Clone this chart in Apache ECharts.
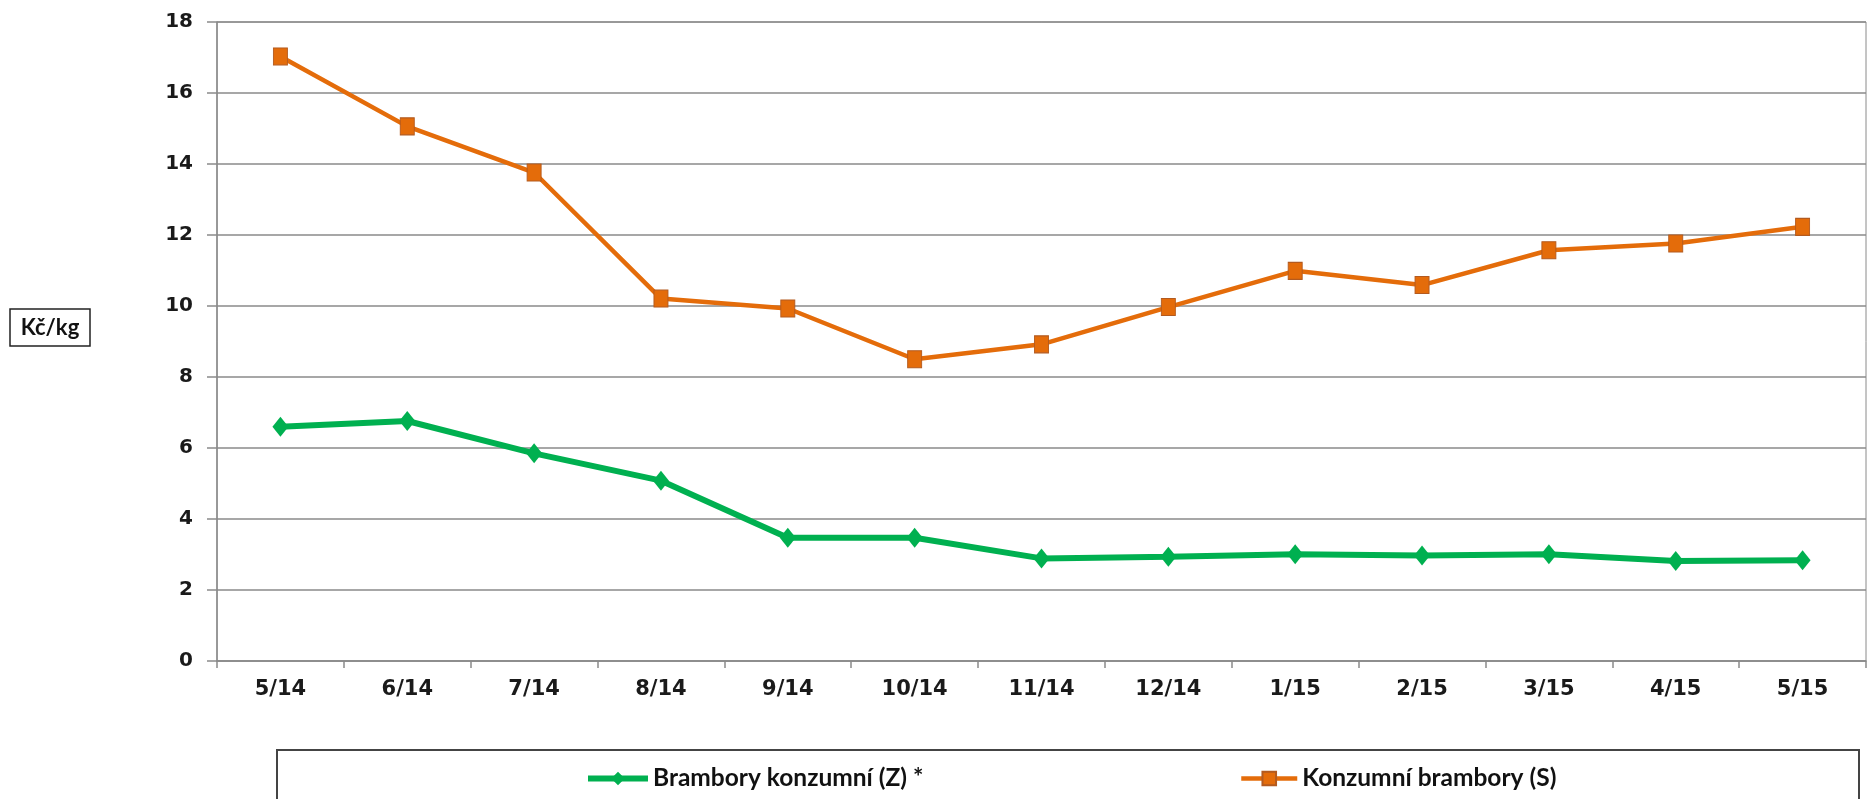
<!DOCTYPE html>
<html>
<head>
<meta charset="utf-8">
<script src="https://cdn.jsdelivr.net/npm/echarts@6/dist/echarts.min.js"></script>
<style>
html,body{margin:0;padding:0;background:#fff;}
#chart{width:1867px;height:799px;}
</style>
</head>
<body>
<div id="chart"></div>
<script>
const categories = ['5/14','6/14','7/14','8/14','9/14','10/14','11/14','12/14','1/15','2/15','3/15','4/15','5/15'];
const greenName = 'Brambory konzumní (Z) *';
const orangeName = 'Konzumní brambory (S)';
const greenValues = [6.60, 6.76, 5.85, 5.08, 3.47, 3.47, 2.89, 2.94, 3.01, 2.97, 3.01, 2.82, 2.84];
const orangeValues = [17.03, 15.06, 13.76, 10.21, 9.93, 8.50, 8.92, 9.97, 10.99, 10.59, 11.57, 11.76, 12.23];
const yTicks = {min: 0, max: 18, interval: 2};
const unitLabel = 'Kč/kg';

const chart = echarts.init(document.getElementById('chart'));
const gray = '#8a8a8a';
chart.setOption({
  animation: false,
  backgroundColor: '#fff',
  grid: {left: 217, right: 1, top: 22, bottom: 138, show: true, borderColor: gray, borderWidth: 1},
  xAxis: {
    type: 'category',
    data: categories,
    boundaryGap: true,
    axisLine: {lineStyle: {color: gray, width: 1.5}},
    axisTick: {show: true, length: 7, inside: false, alignWithLabel: false, lineStyle: {color: gray, width: 1.5}},
    axisLabel: {color: '#1a1a1a', fontFamily: 'DejaVu Sans', fontWeight: 'bold', fontSize: 21, margin: 18}
  },
  yAxis: {
    type: 'value',
    min: yTicks.min, max: yTicks.max, interval: yTicks.interval,
    axisLine: {show: true, lineStyle: {color: gray, width: 1.5}},
    axisTick: {show: true, length: 10, lineStyle: {color: gray, width: 1.5}},
    splitLine: {lineStyle: {color: gray, width: 1.5}},
    axisLabel: {color: '#1a1a1a', fontFamily: 'DejaVu Sans', fontWeight: 'bold', fontSize: 20, margin: 24}
  },
  legend: [{
    left: 580, top: 761,
    data: [greenName],
    itemWidth: 60, itemHeight: 17,
    lineStyle: {width: 6},
    textStyle: {color: '#111', fontFamily: 'Lato', fontWeight: 'bold', fontSize: 24.5}
  }, {
    left: 1234, top: 761,
    data: [orangeName],
    itemWidth: 56, itemHeight: 17,
    lineStyle: {width: 4.5},
    textStyle: {color: '#111', fontFamily: 'Lato', fontWeight: 'bold', fontSize: 24.5}
  }],
  graphic: [
    {type: 'rect', shape: {x: 277, y: 750, width: 1582, height: 100}, style: {fill: 'none', stroke: '#444', lineWidth: 2}},
    {type: 'rect', shape: {x: 10, y: 309, width: 80, height: 37}, style: {fill: '#fff', stroke: '#222', lineWidth: 1.5}},
    {type: 'text', x: 50, y: 327.5, style: {text: unitLabel, fill: '#111', font: 'bold 22px Lato', align: 'center', verticalAlign: 'middle'}}
  ],
  series: [{
    name: greenName,
    type: 'line',
    data: greenValues,
    symbol: 'diamond',
    symbolSize: [16, 20],
    lineStyle: {color: '#00B050', width: 6},
    itemStyle: {color: '#00B050'},
    z: 3
  }, {
    name: orangeName,
    type: 'line',
    data: orangeValues,
    symbol: 'rect',
    symbolSize: [14, 17],
    lineStyle: {color: '#E46C0A', width: 4.5},
    itemStyle: {color: '#E46C0A', borderColor: '#B35A1F', borderWidth: 1},
    z: 4
  }]
});
</script>
</body>
</html>
